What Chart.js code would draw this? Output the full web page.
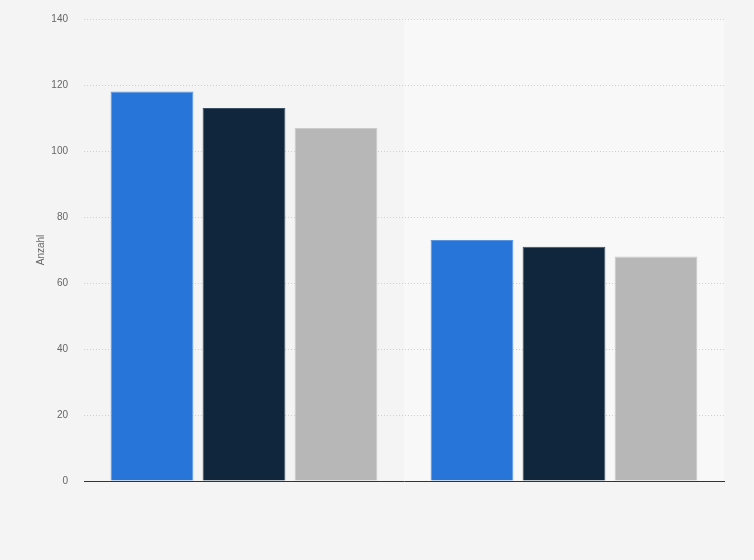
<!DOCTYPE html>
<html>
<head>
<meta charset="utf-8">
<script src="https://cdn.jsdelivr.net/npm/chart.js@4/dist/chart.umd.min.js"></script>
<style>
  html, body { margin: 0; padding: 0; background: #f4f4f4; }
  #wrap { width: 754px; height: 560px; }
</style>
</head>
<body>
<div id="wrap"><canvas id="myChart"></canvas></div>
<script>
// values
const categories = ["Gruppe 1", "Gruppe 2"];
const seriesA = [118, 73];
const seriesB = [113, 71];
const seriesC = [107, 68];
const yTicks = [0, 20, 40, 60, 80, 100, 120, 140];

// light band behind every second category
const bandPlugin = {
    id: 'bands',
    beforeDraw(chart) {
        const c = chart.ctx;
        const x = chart.scales.x;
        const area = chart.chartArea;
        c.save();
        c.fillStyle = '#f4f4f4';
        c.fillRect(0, 0, chart.width, chart.height);
        const step = x.width / categories.length;
        c.fillStyle = '#f8f8f8';
        for (let i = 1; i < categories.length; i += 2) {
            const mid = x.getPixelForValue(i);
            c.fillRect(mid - step / 2, area.top, step, area.bottom - area.top);
        }
        c.restore();
    }
};

function start() {
    const ctx = document.getElementById("myChart");
    myChart = new Chart(ctx, {
        type: 'bar',
        data: {
            labels: categories,
            datasets: [
                { label: 'A', backgroundColor: '#2775d9', borderColor: '#5a95e2', borderWidth: 1, data: seriesA },
                { label: 'B', backgroundColor: '#0f263c', borderColor: '#3c5064', borderWidth: 1, data: seriesB },
                { label: 'C', backgroundColor: '#b7b7b7', borderColor: '#cbcbcb', borderWidth: 1, data: seriesC }
            ]
        },
        options: {
            responsive: true,
            maintainAspectRatio: false,
            animation: false,
            categoryPercentage: 0.8625,
            barPercentage: 0.9,
            layout: {
                padding: { left: 29, right: 30, top: 19, bottom: 79 }
            },
            plugins: {
                legend: { display: false },
                tooltip: { enabled: false }
            },
            scales: {
                x: {
                    grid: { display: false },
                    border: { display: true, color: '#333333', width: 1 },
                    ticks: { display: false },
                    afterFit(scale) { scale.height = 0; }
                },
                y: {
                    min: 0,
                    max: 140,
                    afterBuildTicks(scale) { scale.ticks = yTicks.map(v => ({ value: v })); },
                    afterFit(scale) {
                        scale.width = 55;
                        scale.paddingTop = 0;
                        scale.paddingBottom = 0;
                    },
                    border: { display: false, dash: [1, 2] },
                    grid: { color: '#cfcfcf', tickLength: 0, drawTicks: false },
                    ticks: {
                        padding: 16,
                        color: '#666666',
                        font: { family: 'Liberation Sans', size: 10 }
                    },
                    title: {
                        display: true,
                        text: 'Anzahl',
                        color: '#666666',
                        padding: { top: 6, bottom: 0 },
                        font: { family: 'Liberation Sans', size: 10 }
                    }
                }
            }
        },
        plugins: [bandPlugin]
    });
}

start();
</script>
</body>
</html>
